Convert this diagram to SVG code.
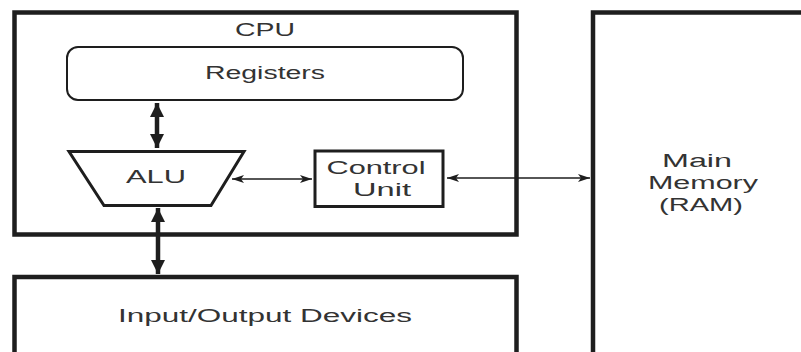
<svg xmlns="http://www.w3.org/2000/svg" width="801" height="352" viewBox="0 0 801 352">
  <defs>
    <style>
      .box { fill: none; stroke: #1e1e1e; stroke-width: 4.5; }
      .part { fill: #ffffff; stroke: #1e1e1e; stroke-width: 3; }
      .reg { fill: #ffffff; stroke: #1e1e1e; stroke-width: 2; }
      .label { font-family: "Liberation Sans", Arial, sans-serif; font-size: 18px; fill: #333333; text-anchor: middle; }
      .thin { stroke: #1e1e1e; stroke-width: 1.5; fill: none; }
      .thick { stroke: #1e1e1e; stroke-width: 4.5; fill: none; }
    </style>
    <marker id="thinHead" viewBox="0 0 12 8" refX="12" refY="4" markerWidth="12" markerHeight="8" markerUnits="userSpaceOnUse" orient="auto-start-reverse">
      <path d="M0,0 L12,4 L0,8 L3,4 Z" fill="#1e1e1e"/>
    </marker>
    <marker id="thickHead" viewBox="0 0 14 14" refX="14" refY="7" markerWidth="14" markerHeight="14" markerUnits="userSpaceOnUse" orient="auto-start-reverse">
      <path d="M0,0 L14,7 L0,14 Z" fill="#1e1e1e"/>
    </marker>
  </defs>
  <rect width="801" height="352" fill="#ffffff"/>

  <g id="cpu">
    <rect class="box" x="14.5" y="12.5" width="502" height="222"/>
    <text class="label" x="265" y="36" textLength="60" lengthAdjust="spacingAndGlyphs">CPU</text>
  </g>

  <g id="registers">
    <rect class="reg" x="67" y="47" width="396" height="53" rx="11" ry="11"/>
    <text class="label" x="265" y="79" textLength="120" lengthAdjust="spacingAndGlyphs">Registers</text>
  </g>

  <g id="alu">
    <polygon class="part" points="69,151.5 244,151.5 211,205.5 104,205.5"/>
    <text class="label" x="156" y="183" textLength="60" lengthAdjust="spacingAndGlyphs">ALU</text>
  </g>

  <g id="control-unit">
    <rect class="part" x="315" y="151" width="128" height="55.5"/>
    <text class="label" x="376" y="174" textLength="99" lengthAdjust="spacingAndGlyphs">Control</text>
    <text class="label" x="382" y="196" textLength="58" lengthAdjust="spacingAndGlyphs">Unit</text>
  </g>

  <g id="io-devices">
    <rect class="box" x="14.5" y="277" width="502" height="100"/>
    <text class="label" x="265" y="322" textLength="294" lengthAdjust="spacingAndGlyphs">Input/Output Devices</text>
  </g>

  <g id="main-memory">
    <rect class="box" x="593" y="12.5" width="250" height="400"/>
    <text class="label" x="697" y="167" textLength="70" lengthAdjust="spacingAndGlyphs">Main</text>
    <text class="label" x="703" y="189" textLength="110" lengthAdjust="spacingAndGlyphs">Memory</text>
    <text class="label" x="701" y="211" textLength="84" lengthAdjust="spacingAndGlyphs">(RAM)</text>
  </g>

  <g id="connectors">
    <line class="thick" x1="157" y1="103" x2="157" y2="148" marker-start="url(#thickHead)" marker-end="url(#thickHead)"/>
    <line class="thick" x1="158" y1="208" x2="158" y2="274" marker-start="url(#thickHead)" marker-end="url(#thickHead)"/>
    <line class="thin" x1="232" y1="179" x2="312" y2="179" marker-start="url(#thinHead)" marker-end="url(#thinHead)"/>
    <line class="thin" x1="447" y1="178" x2="590" y2="178" marker-start="url(#thinHead)" marker-end="url(#thinHead)"/>
  </g>
</svg>
